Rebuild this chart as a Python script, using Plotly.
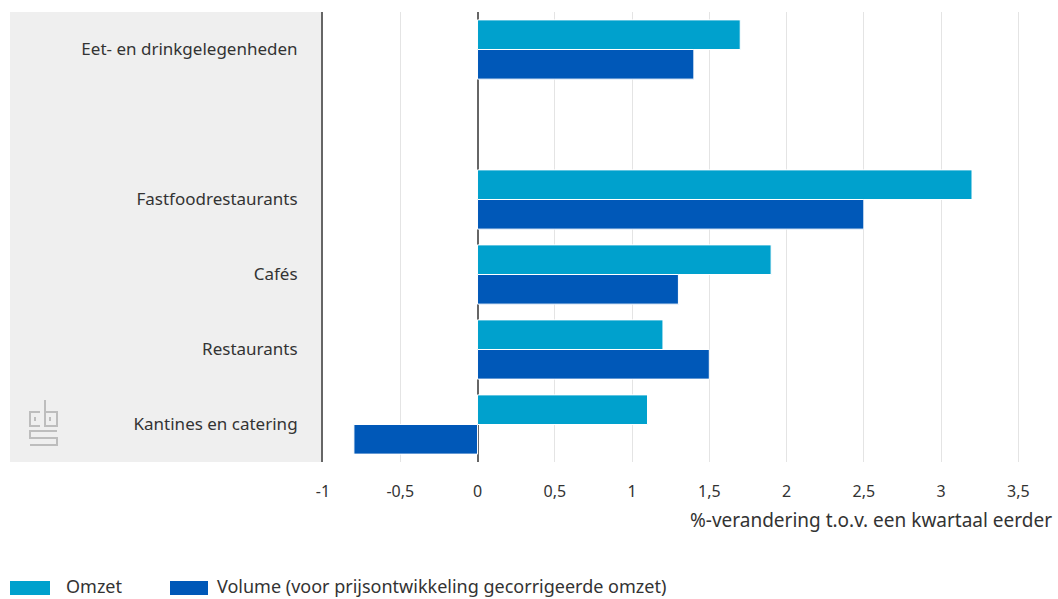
import plotly.graph_objects as go

categories = ["Eet- en drinkgelegenheden", " ", "Fastfoodrestaurants", "Cafés",
              "Restaurants", "Kantines en catering"]
omzet = [1.7, None, 3.2, 1.9, 1.2, 1.1]
volume = [1.4, None, 2.5, 1.3, 1.5, -0.8]
series_names = ["Omzet", "Volume (voor prijsontwikkeling gecorrigeerde omzet)"]
x_ticks = [-1, -0.5, 0, 0.5, 1, 1.5, 2, 2.5, 3, 3.5]
x_ticklabels = ["-1", "-0,5", "0", "0,5", "1", "1,5", "2", "2,5", "3", "3,5"]
x_title = "%-verandering t.o.v. een kwartaal eerder"

C_OMZET = "#00a1cd"
C_VOL = "#0058b8"
FONT = "Noto Sans"
W, H = 1058, 599
L, R, T, B = 323, 18, 12, 137
PW, PH = W - L - R, H - T - B


def px(x):
    return (x - L) / PW


def py(y):
    return (H - B - y) / PH


fig = go.Figure()
fig.add_trace(go.Bar(y=categories, x=omzet, orientation="h", name=series_names[0],
                     marker=dict(color=C_OMZET, line=dict(color="white", width=1)),
                     showlegend=False))
fig.add_trace(go.Bar(y=categories, x=volume, orientation="h", name=series_names[1],
                     marker=dict(color=C_VOL, line=dict(color="white", width=1)),
                     showlegend=False))

shapes = []
# grey label panel
shapes.append(dict(type="rect", xref="paper", yref="paper", x0=px(10), x1=px(323),
                   y0=py(462), y1=py(12),
                   fillcolor="#efefef", line=dict(width=0), layer="below"))

# cbs logo (approximation)
def line_path(pts):
    d = "M" + " L".join(f"{px(a):.5f},{py(b):.5f}" for a, b in pts)
    return dict(type="path", xref="paper", yref="paper", path=d,
                line=dict(color="#bdbdbd", width=2), layer="above")

shapes.append(line_path([(40, 412), (30, 412), (30, 426), (40, 426)]))
shapes.append(line_path([(35, 417), (35, 421)]))
shapes.append(line_path([(45, 400), (45, 426), (57, 426), (57, 412), (45, 412)]))
shapes.append(line_path([(50, 417), (50, 421)]))
shapes.append(line_path([(57, 431), (30, 431), (30, 438), (57, 438), (57, 445), (30, 445)]))

# legend swatches
shapes.append(dict(type="rect", xref="paper", yref="paper", x0=px(10), x1=px(50),
                   y0=py(595), y1=py(581), fillcolor=C_OMZET, line=dict(width=0)))
shapes.append(dict(type="rect", xref="paper", yref="paper", x0=px(170), x1=px(208),
                   y0=py(595), y1=py(581), fillcolor=C_VOL, line=dict(width=0)))

annotations = [
    dict(text=series_names[0], xref="paper", yref="paper", x=px(64), y=py(586),
         xanchor="left", yanchor="middle", showarrow=False,
         font=dict(family=FONT, size=18, color="#333333")),
    dict(text=series_names[1], xref="paper", yref="paper", x=px(215), y=py(586),
         xanchor="left", yanchor="middle", showarrow=False,
         font=dict(family=FONT, size=18, color="#333333")),
    dict(text=x_title, xref="paper", yref="paper", x=px(1054), y=py(520),
         xanchor="right", yanchor="middle", showarrow=False,
         font=dict(family=FONT, size=19, color="#333333")),
]

fig.update_layout(
    width=W, height=H,
    margin=dict(l=L, r=R, t=T, b=B, autoexpand=False),
    paper_bgcolor="white", plot_bgcolor="white",
    barmode="group", bargap=0.21, bargroupgap=0.0,
    font=dict(family=FONT, size=16, color="#333333"),
    shapes=shapes, annotations=annotations,
    xaxis=dict(range=[-1, 3.64], tickvals=x_ticks, ticktext=x_ticklabels,
               showgrid=True, gridcolor="#e4e4e4", gridwidth=1,
               zeroline=True, zerolinecolor="#666666", zerolinewidth=2,
               ticks="", showline=False, ticklabelstandoff=18,
               tickfont=dict(size=16, color="#333333")),
    yaxis=dict(categoryorder="array", categoryarray=categories, autorange="reversed",
               showgrid=False, showline=True, linecolor="#666666", linewidth=2,
               ticks="", ticklabelstandoff=20, tickfont=dict(size=17, color="#333333")),
)

fig.write_html("out.html", config={"displayModeBar": False},
               post_script="document.body.style.margin='0';document.body.style.overflow='hidden';")
